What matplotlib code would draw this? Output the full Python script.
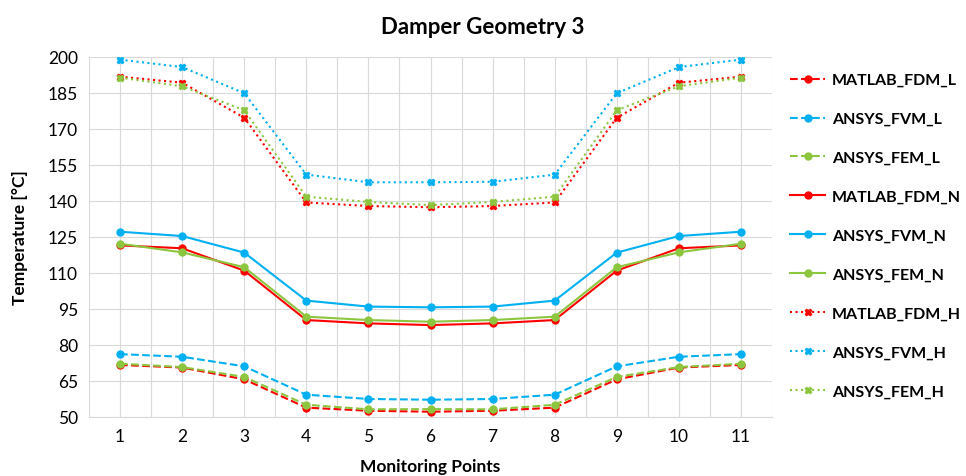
import numpy as np
import matplotlib
matplotlib.use("Agg")
from matplotlib import pyplot as plt
from matplotlib.ticker import MultipleLocator

plt.rcParams['font.family'] = ['Lato', 'DejaVu Sans']

points = list(range(1, 12))

# low
matlab_fdm_l = [71.7, 70.6, 65.7, 53.9, 52.6, 52.2, 52.6, 53.9, 65.7, 70.6, 71.7]
ansys_fvm_l = [76.2, 75.1, 71.1, 59.3, 57.5, 57.2, 57.5, 59.3, 71.1, 75.1, 76.2]
ansys_fem_l = [72.2, 70.8, 66.7, 55.1, 53.2, 53.3, 53.2, 55.1, 66.7, 70.8, 72.2]
# nominal
matlab_fdm_n = [121.5, 120.3, 111.0, 90.4, 89.0, 88.3, 89.0, 90.4, 111.0, 120.3, 121.5]
ansys_fvm_n = [127.2, 125.4, 118.5, 98.5, 96.0, 95.7, 96.0, 98.5, 118.5, 125.4, 127.2]
ansys_fem_n = [122.2, 118.6, 112.4, 91.8, 90.4, 89.7, 90.4, 91.8, 112.4, 118.6, 122.2]
# high
matlab_fdm_h = [191.8, 189.3, 174.7, 139.4, 137.9, 137.4, 137.9, 139.4, 174.7, 189.3, 191.8]
ansys_fvm_h = [198.9, 195.8, 184.9, 151.0, 147.8, 147.8, 148.0, 151.0, 184.9, 195.8, 198.9]
ansys_fem_h = [191.4, 187.8, 177.8, 141.8, 139.6, 138.3, 139.6, 141.8, 177.8, 187.8, 191.4]

y_ticks = [50, 65, 80, 95, 110, 125, 140, 155, 170, 185, 200]

red = '#ff0000'
blue = '#00b0f0'
green = '#8cc63f'

series = [
    ("MATLAB_FDM_L", matlab_fdm_l, red, '--', 'o'),
    ("ANSYS_FVM_L", ansys_fvm_l, blue, '--', 'o'),
    ("ANSYS_FEM_L", ansys_fem_l, green, '--', 'o'),
    ("MATLAB_FDM_N", matlab_fdm_n, red, '-', 'o'),
    ("ANSYS_FVM_N", ansys_fvm_n, blue, '-', 'o'),
    ("ANSYS_FEM_N", ansys_fem_n, green, '-', 'o'),
    ("MATLAB_FDM_H", matlab_fdm_h, red, ':', 'X'),
    ("ANSYS_FVM_H", ansys_fvm_h, blue, ':', 'X'),
    ("ANSYS_FEM_H", ansys_fem_h, green, ':', 'X'),
]

fig = plt.figure(figsize=(9.66, 4.77), dpi=100)
ax = fig.add_axes([89 / 966, 59 / 477, 683 / 966, 360 / 477])

for name, vals, col, ls, mk in series:
    ax.plot(points, vals, color=col, linestyle=ls, linewidth=1.5,
            marker=mk, markersize=5, label=name)

ax.set_xlim(0.5, 11.5)
ax.set_ylim(50, 200)
ax.set_xticks(points)
ax.set_yticks(y_ticks)
ax.xaxis.set_minor_locator(MultipleLocator(0.5))
ax.grid(True, which='both', color='#d9d9d9', linewidth=0.8)
ax.set_axisbelow(True)
for s in ['top', 'right', 'left']:
    ax.spines[s].set_visible(False)
ax.spines['bottom'].set_color('#d9d9d9')
ax.tick_params(which='both', length=0, labelsize=12.5, pad=8)

ax.set_xlabel("Monitoring Points", fontsize=12.5, fontweight='bold', labelpad=10)
ax.set_ylabel("Temperature [°C]", fontsize=12.5, fontweight='bold', labelpad=14)
fig.suptitle("Damper Geometry 3", fontsize=16, fontweight='bold', y=0.965)

fig.legend(loc='upper left', bbox_to_anchor=(0.803, 0.875), frameon=False,
           prop={'size': 11.5, 'weight': 'bold'}, labelspacing=1.55,
           handlelength=2.2, handletextpad=0.4)

fig.savefig("out.png", dpi=100)
